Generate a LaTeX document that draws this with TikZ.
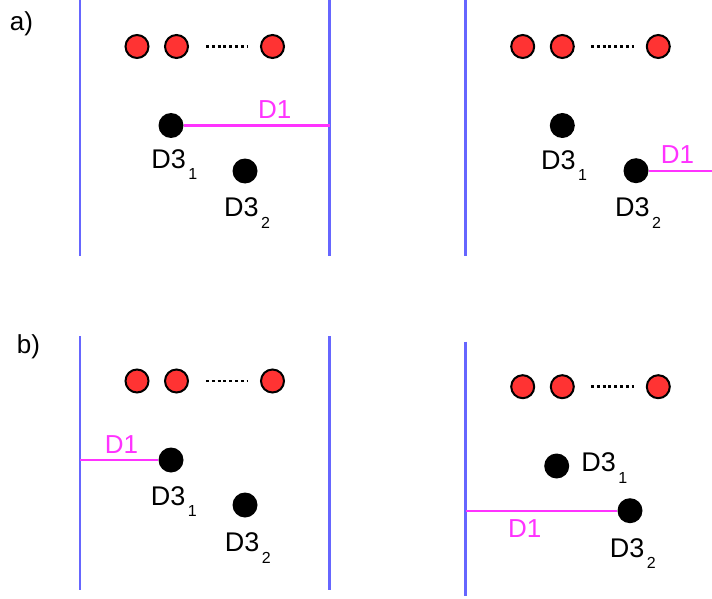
\documentclass[tikz,border=0pt]{standalone}
\usepackage{fontspec}
\setmainfont{Liberation Sans}
\definecolor{wallblue}{RGB}{102,102,255}
\definecolor{dmag}{RGB}{255,51,255}
\definecolor{ballred}{RGB}{255,51,51}
\newcommand\dlab[1]{D3\hspace{2.5pt}\raisebox{-11.5pt}{\fontsize{16}{16}\selectfont #1}}
\tikzset{
  wall/.style={draw=wallblue, line width=2.5pt},
  dline/.style={draw=dmag, line width=2.3pt},
  red ball/.style={circle, draw=black, line width=2pt, fill=ballred, minimum size=23pt, inner sep=0pt},
  dot/.style={circle, fill=black, minimum size=25pt, inner sep=0pt},
  dots/.style={line width=2.5pt, dash pattern=on 3pt off 2.8pt},
  lab/.style={anchor=base west, inner sep=0pt, font=\fontsize{27}{27}\selectfont},
  dlabel/.style={anchor=base west, inner sep=0pt, font=\fontsize{26}{26}\selectfont, text=dmag},
  plabel/.style={anchor=base, inner sep=0pt, font=\fontsize{26}{26}\selectfont},
}
\begin{document}
\begin{tikzpicture}[x=1pt,y=-1pt]
\useasboundingbox (0,0) rectangle (712,599);
% labels
\node[plabel] (la) at (21.5,30.7) {a)};
\node[plabel] (lb) at (28.5,353) {b)};

% ---------- top-left ----------
\coordinate (tlLa) at (80,0); \coordinate (tlLb) at (80,256);
\coordinate (tlRa) at (329.5,0); \coordinate (tlRb) at (329.5,256);
\draw[wall] (tlLa) -- (tlLb);
\draw[wall] (tlRa) -- (tlRb);
\node[red ball] (tlr1) at (137,46.5) {};
\node[red ball] (tlr2) at (176.5,46.5) {};
\node[red ball] (tlr3) at (272.5,46.5) {};
\coordinate (tlds) at (206,46.5); \coordinate (tlde) at (248,46.5);
\draw[dots] (tlds) -- (tlde);
\node[dot] (tld1) at (171,125.5) {};
\node[dot] (tld2) at (245,171) {};
\coordinate (tlw) at (329.5,125.5);
\draw[dline] (tld1) -- (tlw);
\node[dlabel] (tlD1) at (258,118.3) {D1};
\node[lab] (tll1) at (151.2,168.3) {\dlab{1}};
\node[lab] (tll2) at (223.9,216.7) {\dlab{2}};

% ---------- top-right ----------
\coordinate (trLa) at (465.7,0); \coordinate (trLb) at (465.7,256);
\draw[wall] (trLa) -- (trLb);
\node[red ball] (trr1) at (522.7,46.5) {};
\node[red ball] (trr2) at (562.3,46.5) {};
\node[red ball] (trr3) at (658.3,46.5) {};
\coordinate (trds) at (591,46.5); \coordinate (trde) at (634,46.5);
\draw[dots] (trds) -- (trde);
\node[dot] (trd1) at (562.3,125.5) {};
\node[dot] (trd2) at (636,170.7) {};
\coordinate (trw) at (712,170.7);
\draw[dline] (trd2) -- (trw);
\node[dlabel] (trD1) at (660.7,164) {D1};
\node[lab] (trl1) at (540.9,169.3) {\dlab{1}};
\node[lab] (trl2) at (614.9,216.7) {\dlab{2}};

% ---------- bottom-left ----------
\coordinate (blLa) at (80,336); \coordinate (blLb) at (80,590);
\coordinate (blRa) at (329.5,336); \coordinate (blRb) at (329.5,590);
\draw[wall] (blLa) -- (blLb);
\draw[wall] (blRa) -- (blRb);
\node[red ball] (blr1) at (137,381) {};
\node[red ball] (blr2) at (176.5,381) {};
\node[red ball] (blr3) at (272.5,381) {};
\coordinate (blds) at (206,381); \coordinate (blde) at (248,381);
\draw[dots] (blds) -- (blde);
\node[dot] (bld1) at (171,460) {};
\node[dot] (bld2) at (245,505) {};
\coordinate (blw) at (80,460);
\draw[dline] (blw) -- (bld1);
\node[dlabel] (blD1) at (104.7,453.3) {D1};
\node[lab] (bll1) at (150.6,505) {\dlab{1}};
\node[lab] (bll2) at (224.6,551.7) {\dlab{2}};

% ---------- bottom-right ----------
\coordinate (brLa) at (465.7,341.7); \coordinate (brLb) at (465.7,596);
\draw[wall] (brLa) -- (brLb);
\node[red ball] (brr1) at (522.7,386.7) {};
\node[red ball] (brr2) at (562.3,386.7) {};
\node[red ball] (brr3) at (658.3,386.7) {};
\coordinate (brds) at (591,386.7); \coordinate (brde) at (634,386.7);
\draw[dots] (brds) -- (brde);
\node[dot] (brd1) at (556.7,466) {};
\node[dot] (brd2) at (630,510.7) {};
\coordinate (brw) at (465.7,510.7);
\draw[dline] (brw) -- (brd2);
\node[dlabel] (brD1) at (508,537.3) {D1};
\node[lab] (brl1) at (581.2,471.7) {\dlab{1}};
\node[lab] (brl2) at (609.6,557.3) {\dlab{2}};
\end{tikzpicture}
\end{document}
